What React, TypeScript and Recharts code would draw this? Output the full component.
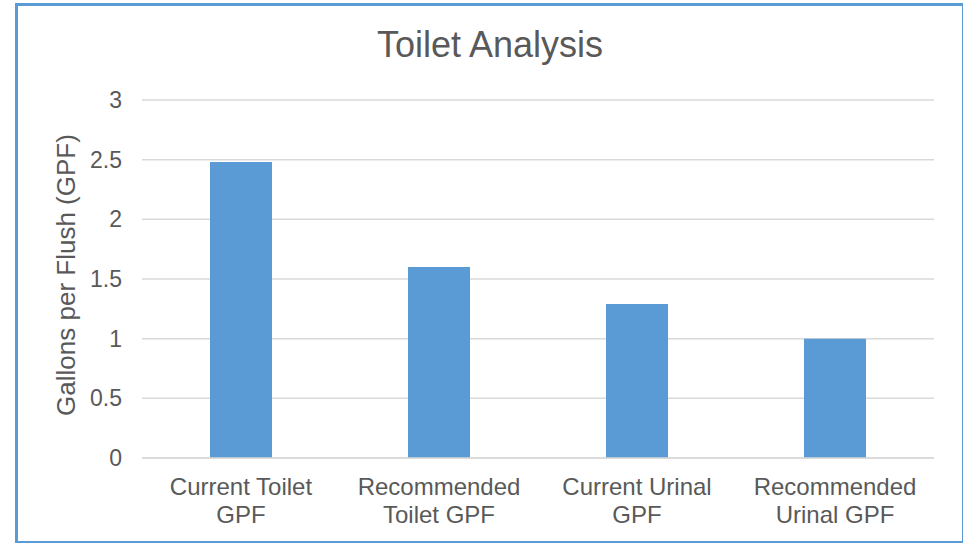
import React from 'react';
import { BarChart, Bar, XAxis, YAxis, CartesianGrid } from 'recharts';

const categories = [
  'Current Toilet GPF',
  'Recommended Toilet GPF',
  'Current Urinal GPF',
  'Recommended Urinal GPF',
];
const tickLines = [
  ['Current Toilet', 'GPF'],
  ['Recommended', 'Toilet GPF'],
  ['Current Urinal', 'GPF'],
  ['Recommended', 'Urinal GPF'],
];
const gpf = [2.48, 1.6, 1.29, 1.0];
const yTicks = [0, 0.5, 1, 1.5, 2, 2.5, 3];
const yTitle = 'Gallons per Flush (GPF)';

const FONT = '"Liberation Sans", Arial, sans-serif';
const TEXT = '#595959';

const data = categories.map((name, i) => ({ name, gpf: gpf[i] }));

function CategoryTick(props: any) {
  const { x, y, index } = props;
  const lines = tickLines[index] || [];
  return (
    <text x={x} y={y} textAnchor="middle" fill={TEXT} fontSize={24} fontFamily={FONT}>
      {lines.map((l, i) => (
        <tspan key={i} x={x} dy={i === 0 ? 29 : 28}>
          {l}
        </tspan>
      ))}
    </text>
  );
}

function YTitle(props: any) {
  const vb = props.viewBox || {};
  const cx = (vb.x ?? 82) - 16;
  const cy = (vb.y ?? 100) + (vb.height ?? 358) / 2 - 4;
  return (
    <text
      x={cx}
      y={cy}
      transform={`rotate(-90 ${cx} ${cy})`}
      textAnchor="middle"
      dominantBaseline="central"
      fill={TEXT}
      fontSize={26}
      fontFamily={FONT}
    >
      {yTitle}
    </text>
  );
}

export default function App() {
  return (
    <div style={{ position: 'absolute', left: 0, top: 0, width: 963, height: 543, background: '#fff' }}>
      <div
        style={{
          position: 'absolute',
          left: 15,
          top: 3,
          width: 944,
          height: 535,
          borderTop: '3px solid #5B9BD5',
          borderLeft: '3px solid #5B9BD5',
          borderRight: '2px solid #5B9BD5',
          borderBottom: '2px solid #5B9BD5',
        }}
      />
      <div
        style={{
          position: 'absolute',
          left: 0,
          width: 980,
          top: 24,
          textAlign: 'center',
          fontFamily: FONT,
          fontSize: 36,
          lineHeight: '42px',
          color: TEXT,
        }}
      >
        Toilet Analysis
      </div>
      <div style={{ position: 'absolute', left: 0, top: 0 }}>
        <BarChart
          width={963}
          height={543}
          data={data}
          margin={{ top: 100, right: 29, left: 82, bottom: 0 }}
        >
          <CartesianGrid vertical={false} stroke="#D9D9D9" strokeWidth={1.5} />
          <XAxis
            dataKey="name"
            axisLine={{ stroke: '#D9D9D9', strokeWidth: 1.5 }}
            tickLine={false}
            interval={0}
            tick={<CategoryTick />}
            height={85}
          />
          <YAxis
            width={60}
            domain={[0, 3]}
            ticks={yTicks}
            axisLine={false}
            tickLine={false}
            tickSize={0}
            tickMargin={20}
            tick={{ fill: TEXT, fontSize: 23, fontFamily: FONT }}
            label={<YTitle />}
          />
          <Bar dataKey="gpf" fill="#5B9BD5" barSize={62} isAnimationActive={false} />
        </BarChart>
      </div>
    </div>
  );
}
